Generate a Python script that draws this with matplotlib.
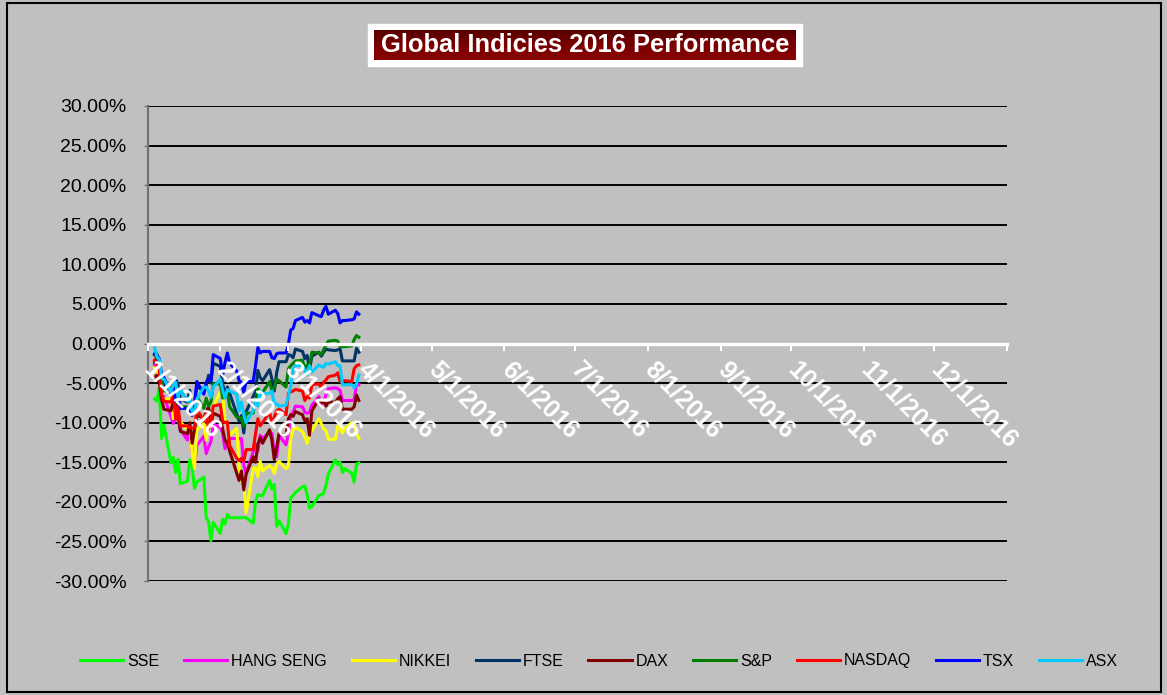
import numpy as np
import pandas as pd
import matplotlib
matplotlib.use("Agg")
import matplotlib.pyplot as plt
import matplotlib.dates as mdates
import matplotlib.transforms as mtransforms
from matplotlib.patches import Rectangle
from matplotlib.ticker import FixedLocator, FuncFormatter

plt.rcParams['font.family'] = ['Liberation Sans', 'DejaVu Sans']

# trading days, Q1 2016 (holidays carried forward)
dates = pd.bdate_range("2016-01-04", "2016-03-31")

# % change since 2015 close
sse = [-7.0, -7.3, -5.6, -12.0, -10.3, -15.1, -14.4, -16.3, -14.6, -17.7,
       -17.4, -14.7, -15.6, -18.3, -17.5, -16.9, -22.0, -22.5, -24.9, -22.6,
       -24.0, -22.2, -22.8, -21.6, -22.0, -22.0, -22.0, -22.0, -22.0, -22.0,
       -22.7, -20.0, -19.1, -19.2, -19.2, -17.3, -18.4, -17.8, -23.1, -22.4,
       -24.0,
       -22.8, -19.5, -19.2, -18.8, -18.1, -18.0, -19.1, -20.8, -20.6,
       -19.2, -19.1, -18.9, -17.9, -16.5, -14.7, -15.3, -15.0, -16.3, -15.8,
       -16.4, -17.5, -15.2, -15.1]
hang_seng = [-2.7, -3.3, -4.3, -7.2, -6.7, -9.2, -10.1, -9.0, -9.6, -10.9,
             -12.2, -10.4, -13.8, -15.4, -12.9, -11.7, -13.9, -13.1, -12.4, -10.2,
             -10.6, -11.3, -13.3, -12.5, -12.0, -12.0, -12.0, -12.0, -15.4, -16.4,
             -13.7, -12.7, -13.6, -11.6, -12.0, -11.2, -11.4, -13.8, -14.3, -11.6,
             -12.8,
             -11.4, -9.0, -8.7, -7.9, -8.0, -8.7, -8.8, -8.7, -7.8,
             -6.7, -7.6, -7.6, -6.4, -5.7, -5.6, -5.7, -5.9, -7.2, -7.2,
             -7.2, -7.1, -5.1, -5.2]
nikkei = [-3.1, -3.5, -4.4, -6.7, -7.0, -7.0, -9.5, -6.9, -9.4, -9.9,
          -10.9, -10.4, -13.8, -15.8, -10.9, -10.1, -12.2, -9.8, -10.5, -8.0,
          -6.1, -6.7, -9.7, -10.3, -11.6, -10.7, -15.5, -17.4, -17.4, -21.4,
          -15.8, -15.7, -16.8, -14.9, -16.1, -15.4, -15.7, -16.4, -15.2, -14.9,
          -15.8,
          -15.5, -12.0, -10.9, -10.6, -11.1, -11.8, -12.6, -11.5, -11.0,
          -9.5, -10.1, -10.8, -11.0, -12.1, -12.1, -10.4, -10.7, -11.3, -10.7,
          -10.0, -10.1, -11.3, -12.0]
ftse = [-2.4, -1.7, -2.7, -4.6, -5.3, -5.9, -5.0, -4.5, -5.2, -7.0,
        -7.4, -5.9, -9.1, -7.5, -5.5, -5.9, -5.3, -4.0, -5.0, -2.5,
        -2.9, -5.1, -6.5, -5.5, -6.3, -8.9, -9.8, -9.1, -11.3, -8.6,
        -6.7, -6.1, -3.4, -4.3, -4.7, -3.3, -4.5, -6.0, -3.7, -2.3,
        -2.3,
        -1.4, -1.5, -1.8, -0.7, -1.0, -1.9, -1.5, -3.3, -1.6,
        -1.1, -1.6, -1.1, -0.7, -0.8, -0.9, -0.8, -0.7, -2.2, -2.2,
        -2.2, -2.2, -0.6, -1.1]
dax = [-4.3, -4.0, -4.9, -7.1, -8.3, -8.5, -7.1, -7.3, -8.8, -11.1,
       -11.4, -10.0, -12.6, -10.9, -9.1, -9.4, -8.6, -8.0, -10.3, -8.8,
       -9.2, -10.8, -12.2, -12.6, -13.6, -16.4, -17.3, -16.1, -18.5, -16.5,
       -14.3, -15.0, -12.7, -11.9, -12.6, -10.9, -12.3, -14.7, -13.1, -11.4,
       -11.6,
       -9.5, -9.0, -9.2, -8.6, -9.0, -9.8, -9.5, -11.6, -8.5,
       -7.0, -7.5, -7.1, -7.9, -7.4, -7.4, -7.0, -6.7, -8.3, -8.3,
       -8.3, -8.0, -6.5, -7.2]
sp500 = [-1.5, -1.3, -2.6, -4.9, -6.0, -5.9, -5.1, -7.5, -6.0, -8.0,
         -8.0, -8.0, -9.0, -8.6, -6.7, -8.2, -6.9, -7.9, -7.4, -5.1,
         -5.1, -6.9, -6.4, -6.3, -8.0, -9.3, -9.4, -9.4, -10.5, -8.8,
         -8.8, -7.3, -5.7, -6.2, -6.2, -4.8, -6.0, -5.6, -4.5, -4.7,
         -5.5,
         -3.2, -2.8, -2.5, -2.2, -2.1, -3.2, -2.7, -2.7, -1.1,
         -1.2, -1.4, -0.8, -0.2, 0.3, 0.4, 0.3, -0.4, -0.4, -0.4,
         -0.3, 0.5, 1.0, 0.8]
nasdaq = [-2.1, -2.3, -3.4, -6.4, -7.3, -7.4, -6.4, -9.6, -7.8, -10.4,
          -10.4, -10.6, -10.7, -10.7, -8.3, -9.8, -8.8, -10.8, -10.0, -7.9,
          -7.7, -9.8, -10.0, -9.9, -12.9, -14.5, -14.8, -14.5, -14.8, -13.4,
          -13.4, -11.4, -9.5, -10.4, -10.0, -8.7, -10.1, -9.3, -8.5, -8.3,
          -9.0,
          -6.3, -6.1, -6.0, -5.8, -6.0, -7.2, -6.7, -6.9, -5.2,
          -5.1, -5.6, -4.9, -4.6, -4.2, -4.0, -3.7, -4.8, -4.7, -4.7,
          -4.8, -3.2, -2.8, -2.7]
tsx = [-1.3, -1.5, -1.9, -4.0, -4.3, -6.3, -5.6, -7.3, -6.1, -8.2,
       -8.2, -8.5, -9.0, -7.7, -4.8, -6.4, -4.9, -4.5, -4.7, -1.4,
       -1.9, -4.0, -2.4, -1.2, -2.5, -3.5, -4.7, -4.9, -6.2, -4.8,
       -4.8, -2.8, -0.5, -1.2, -1.0, -1.0, -1.8, -1.9, -1.3, -1.2,
       -1.2,
       -0.1, 1.7, 1.9, 2.9, 3.3, 2.7, 2.9, 2.6, 3.9,
       3.5, 3.4, 4.2, 4.7, 3.7, 4.2, 3.8, 2.6, 2.9, 2.9,
       3.0, 3.1, 4.0, 3.7]
asx = [-0.5, -1.7, -2.0, -4.4, -4.5, -6.1, -5.2, -4.9, -6.8, -5.8,
       -7.3, -6.8, -8.6, -8.6, -7.0, -5.5, -5.5, -6.0, -6.8, -5.5,
       -4.5, -5.9, -6.9, -5.8, -6.0, -6.4, -8.5, -7.4, -9.0, -10.0,
       -8.5, -7.4, -7.9, -6.0, -6.4, -6.3, -6.0, -7.8, -7.6, -7.9,
       -7.8,
       -6.6, -5.4, -3.3, -2.8, -2.8, -3.5, -3.9, -2.8, -3.6,
       -2.7, -2.9, -3.0, -2.5, -2.6, -2.3, -2.8, -2.8, -5.2, -5.2,
       -5.2, -5.6, -5.1, -4.0]

names = ["SSE", "HANG SENG", "NIKKEI", "FTSE", "DAX", "S&P", "NASDAQ", "TSX", "ASX"]
series = [sse, hang_seng, nikkei, ftse, dax, sp500, nasdaq, tsx, asx]
colors = ["#00FF00", "#FF00FF", "#FFFF00", "#003366", "#800000",
          "#008000", "#FF0000", "#0000FF", "#00CCFF"]

yticks = np.arange(-30, 31, 5)
month_ticks = pd.date_range("2016-01-01", "2017-01-01", freq="MS")
month_labels = [f"{d.month}/{d.day}/{d.year}" for d in month_ticks[:-1]] + [""]

W, H = 1167, 695
fig = plt.figure(figsize=(W / 100, H / 100), dpi=100, facecolor="#C0C0C0")

ax = fig.add_axes([147.5 / W, 1 - 581 / H, (1007 - 147.5) / W, (581 - 106) / H])
ax.patch.set_visible(False)

for name, vals, c in zip(names, series, colors):
    ax.plot(dates, vals, color=c, lw=2.2, label=name, zorder=2)

ax.set_xlim(pd.Timestamp("2016-01-01"), pd.Timestamp("2017-01-01"))
ax.set_ylim(-30, 30)

# y axis
ax.yaxis.set_major_locator(FixedLocator(yticks))
ax.yaxis.set_major_formatter(FuncFormatter(lambda v, p: f"{v:.2f}%"))
ax.yaxis.grid(True, color="black", lw=1.4)
ax.tick_params(axis="y", length=3, width=1, color="#707070", pad=12,
               labelsize=14, labelcolor="black")

# x axis sits on 0%
ax.spines["bottom"].set_position(("data", 0))
ax.spines["bottom"].set_color("white")
ax.spines["bottom"].set_linewidth(2.4)
ax.spines["bottom"].set_zorder(2.5)
ax.xaxis.set_major_locator(FixedLocator(mdates.date2num(month_ticks)))
ax.set_xticklabels(month_labels)
ax.tick_params(axis="x", length=5, width=1.5, color="white", pad=3,
               labelsize=18, labelcolor="white")
shift = mtransforms.ScaledTranslation(-8 / 100, -3 / 100, fig.dpi_scale_trans)
for lab in ax.get_xticklabels():
    lab.set_rotation(-45)
    lab.set_ha("left")
    lab.set_va("top")
    lab.set_fontweight("bold")
    lab.set_transform(lab.get_transform() + shift)
ax.xaxis.set_zorder(5)

ax.spines["left"].set_color("#707070")
ax.spines["left"].set_linestyle((0, (1, 1)))
ax.spines["left"].set_linewidth(1.5)
for s in ["top", "right"]:
    ax.spines[s].set_visible(False)

# title box
fig.patches.append(Rectangle((368 / W, 1 - 66 / H), 434 / W, 42 / H,
                             transform=fig.transFigure, facecolor="white",
                             edgecolor="white", zorder=-1))
tax = fig.add_axes([374 / W, 1 - 60 / H, 422 / W, 30 / H])
tax.set_zorder(3)
grad = np.linspace(0, 1, 64).reshape(-1, 1)
tax.imshow(grad, aspect="auto", extent=[0, 1, 0, 1],
           cmap=matplotlib.colors.LinearSegmentedColormap.from_list(
               "t", ["#560000", "#7A0000", "#880404"]))
tax.set_axis_off()
tax.text(0.5, 0.5, "Global Indicies 2016 Performance", color="white",
         fontsize=18.4, fontweight="bold", ha="center", va="center",
         transform=tax.transAxes)

fig.legend(loc="center", bbox_to_anchor=(599 / W, 1 - 661 / H), ncol=9,
           frameon=False, fontsize=11.5, handlelength=2.7, handletextpad=0.25,
           columnspacing=1.55)

# outer border
fig.patches.append(Rectangle((7 / W, 3 / H), (1161 - 7) / W, (692 - 3) / H,
                             transform=fig.transFigure, fill=False,
                             edgecolor="black", lw=1.5))

fig.savefig("out.png", dpi=100, facecolor=fig.get_facecolor())
